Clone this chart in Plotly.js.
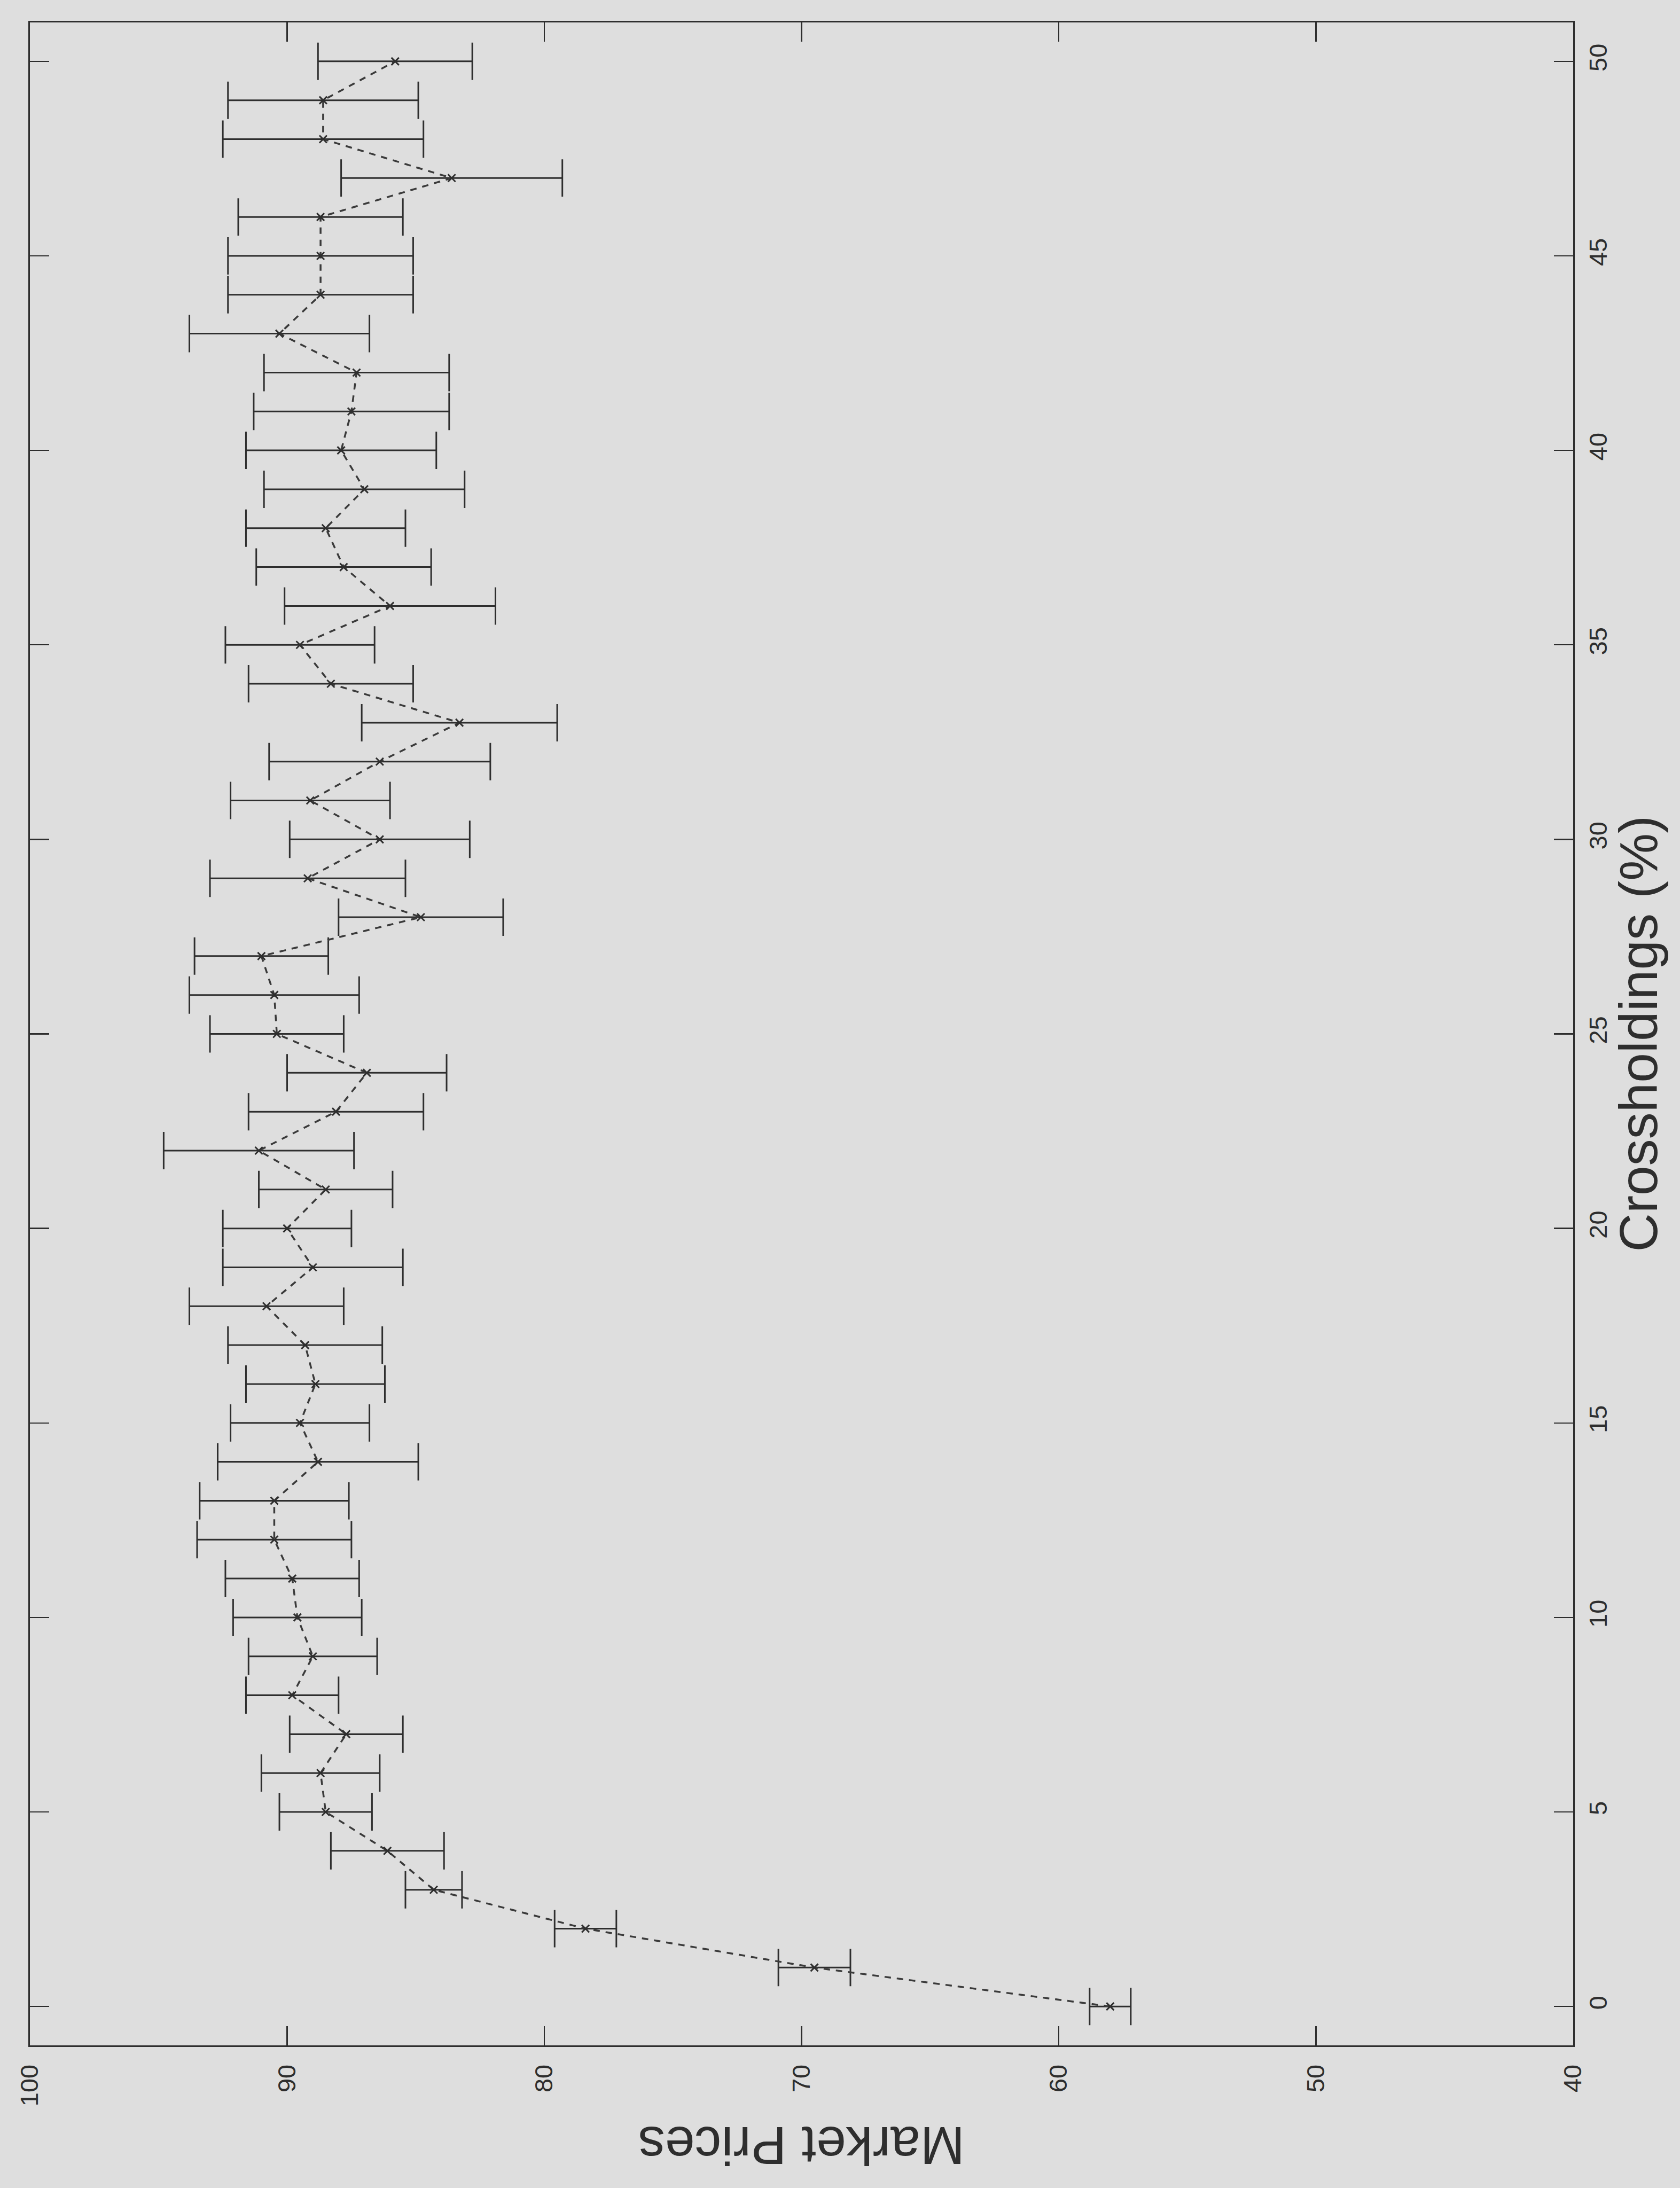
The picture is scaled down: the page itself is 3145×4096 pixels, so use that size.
<!DOCTYPE html>
<html>
<head>
<meta charset="utf-8">
<script src="https://cdn.plot.ly/plotly-3.0.1.min.js"></script>
<style>
  html, body { margin: 0; padding: 0; background: #dedede; }
  #chart { width: 3145px; height: 4096px; }
</style>
</head>
<body>
<div id="chart"></div>
<script>
// Crossholdings (%) levels
const crossholdings = [0,1,2,3,4,5,6,7,8,9,10,11,12,13,14,15,16,17,18,19,20,21,22,23,24,25,26,27,28,29,30,31,32,33,34,35,36,37,38,39,40,41,42,43,44,45,46,47,48,49,50];
// Mean market prices
const marketPrice = [58.0,69.5,78.4,84.3,86.1,88.5,88.7,87.7,89.8,89.0,89.6,89.8,90.5,90.5,88.8,89.5,88.9,89.3,90.8,89.0,90.0,88.5,91.1,88.1,86.9,90.4,90.5,91.0,84.8,89.2,86.4,89.1,86.4,83.3,88.3,89.5,86.0,87.8,88.5,87.0,87.9,87.5,87.3,90.3,88.7,88.7,88.7,83.6,88.6,88.6,85.8];
// Half-width of error bars
const priceError = [0.8,1.4,1.2,1.1,2.2,1.8,2.3,2.2,1.8,2.5,2.5,2.6,3.0,2.9,3.9,2.7,2.7,3.0,3.0,3.5,2.5,2.6,3.7,3.4,3.1,2.6,3.3,2.6,3.2,3.8,3.5,3.1,4.3,3.8,3.2,2.9,4.1,3.4,3.1,3.9,3.7,3.8,3.6,3.5,3.6,3.6,3.2,4.3,3.9,3.7,3.0];

const priceTicks = [40,50,60,70,80,90,100];
const crossTicks = [0,5,10,15,20,25,30,35,40,45,50];

const ink = '#2e2e2e';
const bg = '#dedede';

const trace = {
  type: 'scatter',
  mode: 'lines+markers',
  x: marketPrice,
  y: crossholdings,
  line: { color: '#3a3a3a', width: 3.5, dash: '12px,11px' },
  marker: { symbol: 'x-thin', size: 14, color: ink, line: { color: ink, width: 3 } },
  error_x: { type: 'data', array: priceError, visible: true, color: ink, thickness: 3, width: 35 },
  showlegend: false,
  hoverinfo: 'skip'
};

const layout = {
  width: 3145,
  height: 4096,
  paper_bgcolor: bg,
  plot_bgcolor: bg,
  margin: { l: 56, r: 200, t: 42, b: 267, pad: 0 },
  showlegend: false,
  xaxis: {
    range: [100, 40],
    tickvals: priceTicks,
    ticktext: priceTicks.map(String),
    ticks: 'inside',
    ticklen: 36,
    tickwidth: 2.5,
    tickcolor: ink,
    showline: true,
    linecolor: ink,
    linewidth: 3,
    mirror: 'ticks',
    showgrid: false,
    zeroline: false,
    tickangle: -90,
    ticklabelstandoff: 14,
    tickfont: { family: 'Liberation Sans, Arial, sans-serif', size: 47, color: ink }
  },
  yaxis: {
    range: [-1, 51],
    side: 'right',
    tickvals: crossTicks,
    ticktext: crossTicks.map(String),
    ticks: 'inside',
    ticklen: 36,
    tickwidth: 2.5,
    tickcolor: ink,
    showline: true,
    linecolor: ink,
    linewidth: 3,
    mirror: 'ticks',
    showgrid: false,
    zeroline: false,
    tickangle: -90,
    ticklabelstandoff: 4,
    tickfont: { family: 'Liberation Sans, Arial, sans-serif', size: 47, color: ink }
  },
  annotations: [
    {
      text: 'Market Prices',
      xref: 'paper', yref: 'paper',
      x: 0.5, y: -0.0496,
      xanchor: 'center', yanchor: 'middle',
      textangle: 180,
      showarrow: false,
      font: { family: 'Liberation Sans, Arial, sans-serif', size: 100, color: ink }
    },
    {
      text: 'Crossholdings (%)',
      xref: 'paper', yref: 'paper',
      x: 1.0419, y: 0.5,
      xanchor: 'center', yanchor: 'middle',
      textangle: -90,
      showarrow: false,
      font: { family: 'Liberation Sans, Arial, sans-serif', size: 100, color: ink }
    }
  ]
};

Plotly.newPlot('chart', [trace], layout, { staticPlot: true, displayModeBar: false });
</script>
</body>
</html>
